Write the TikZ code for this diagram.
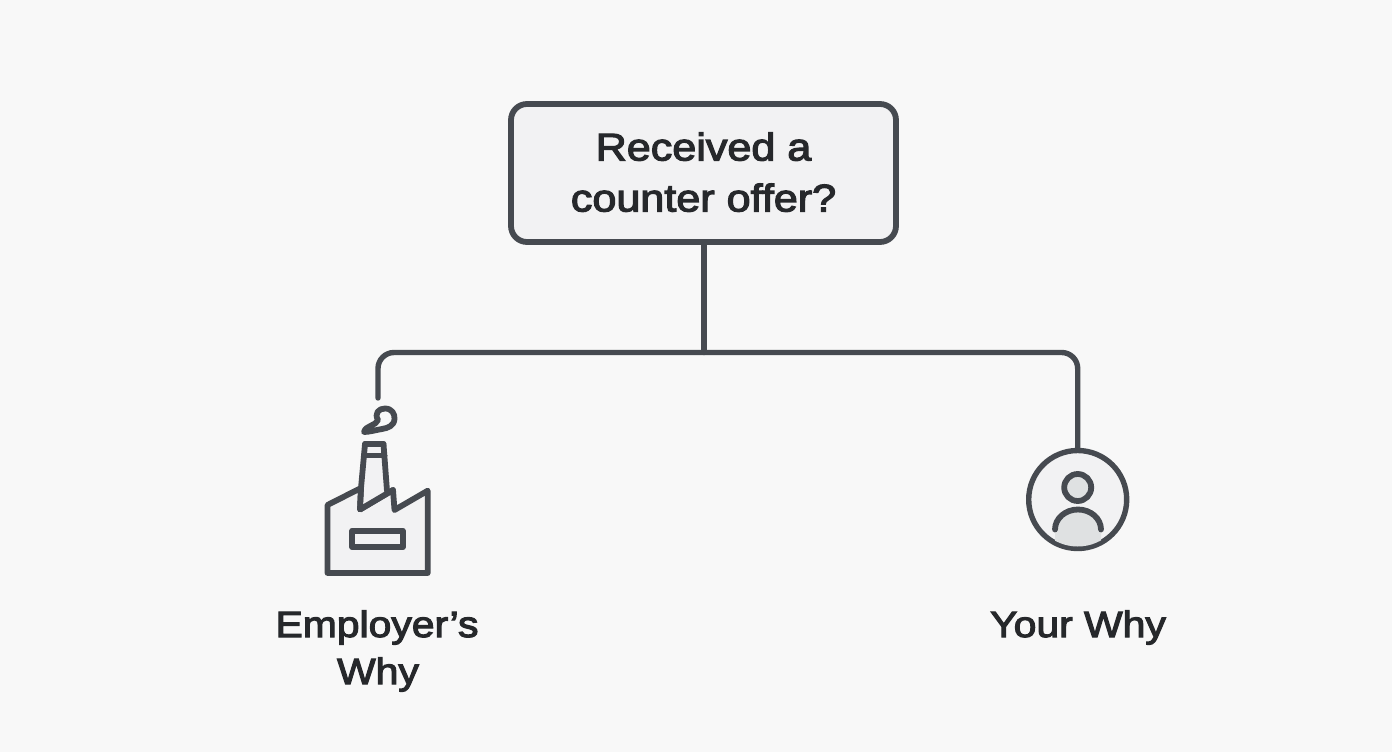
\documentclass[tikz,border=0pt]{standalone}
\usepackage{fontspec}
\setmainfont[FakeBold=3.2,FakeStretch=1.12]{Liberation Sans}
\definecolor{bgc}{HTML}{F8F8F8}
\definecolor{ink}{HTML}{464A50}
\definecolor{txt}{HTML}{26282B}
\definecolor{softf}{HTML}{F2F2F3}
\definecolor{greyf}{HTML}{DFE1E2}
\tikzset{
  line/.style={draw=ink,line width=5.4pt,line cap=round,line join=round},
  icon/.style={draw=ink,line width=5.8pt,line cap=round,line join=round},
  question/.style={draw=ink,line width=5.8pt,rounded corners=16pt,fill=softf,minimum width=385pt,minimum height=138pt,inner sep=0pt,align=center,text=txt,font=\fontsize{38.5}{51}\selectfont},
  lbl/.style={inner sep=0pt,align=center,text=txt,font=\fontsize{36.5}{47}\selectfont,anchor=base},
  ring/.style={circle,draw=ink,line width=5.4pt,fill=softf,minimum size=98pt,inner sep=0pt}
}
\begin{document}
\begin{tikzpicture}[x=1pt,y=-1pt]
\useasboundingbox (0,0) rectangle (1392,752);
\fill[bgc] (0,0) rectangle (1392,752);
% nodes
\node[question] (q) at (703.5,173) {\raisebox{2pt}{Received a}\\\raisebox{2pt}{counter offer?}};
\node[ring] (you) at (1077.7,499.5) {};
\coordinate (bus) at (704,352.5);
\coordinate (emp) at (378,398);
% connectors
\draw[line] (q.south -| bus) -- (bus);
\draw[line,rounded corners=16pt] (emp) -- (emp |- bus) -- (you |- bus) -- (you.north);
% factory icon
\fill[softf] (365,444) -- (383.5,444) -- (388,497) -- (360,509) -- cycle;
\draw[icon,fill=softf] (327.5,505) -- (361,488) -- (360,509.5) -- (393,490) -- (394.5,510) -- (427.7,490.7) -- (427.7,573) -- (327.5,573) -- cycle;
\fill[softf] (367,452) -- (381.5,452) -- (385,494) -- (363,506) -- cycle;
\draw[icon] (361,488) -- (360,509.5) -- (393,490);
\draw[icon] (365,444) -- (361,488);
\draw[icon] (383.5,444) -- (387,491);
\draw[icon] (365,444) -- (383.5,444);
\draw[icon] (364,455.5) -- (384.5,455.5);
\draw[icon] (352.3,530.7) rectangle (402.7,547.3);
\draw[icon] (364,432) .. controls (366,425) and (376,426) .. (378,420)
  .. controls (374,413) and (379,408.5) .. (385,408.5)
  .. controls (392,408.5) and (395,414) .. (394.5,419)
  .. controls (394,426) and (388,428) .. (382,429)
  .. controls (376,430) and (369,432) .. (364,432) -- cycle;
% person icon
\begin{scope}
\clip (you) circle (47pt);
\fill[greyf] (1055,560) -- (1055,530) arc[start angle=180,end angle=0,radius=23pt] -- (1101,560) -- cycle;
\end{scope}
\draw[icon] (1055,529.5) arc[start angle=180,end angle=0,x radius=23pt,y radius=20pt];
\draw[icon,fill=greyf] (1077.7,487.5) circle (13.5pt);
% labels
\node[lbl] (l1) at (377,637) {Employer’s};
\node[lbl] (l2) at (378,684) {Why};
\node[lbl] (l3) at (1078,637) {Your Why};
\end{tikzpicture}
\end{document}
